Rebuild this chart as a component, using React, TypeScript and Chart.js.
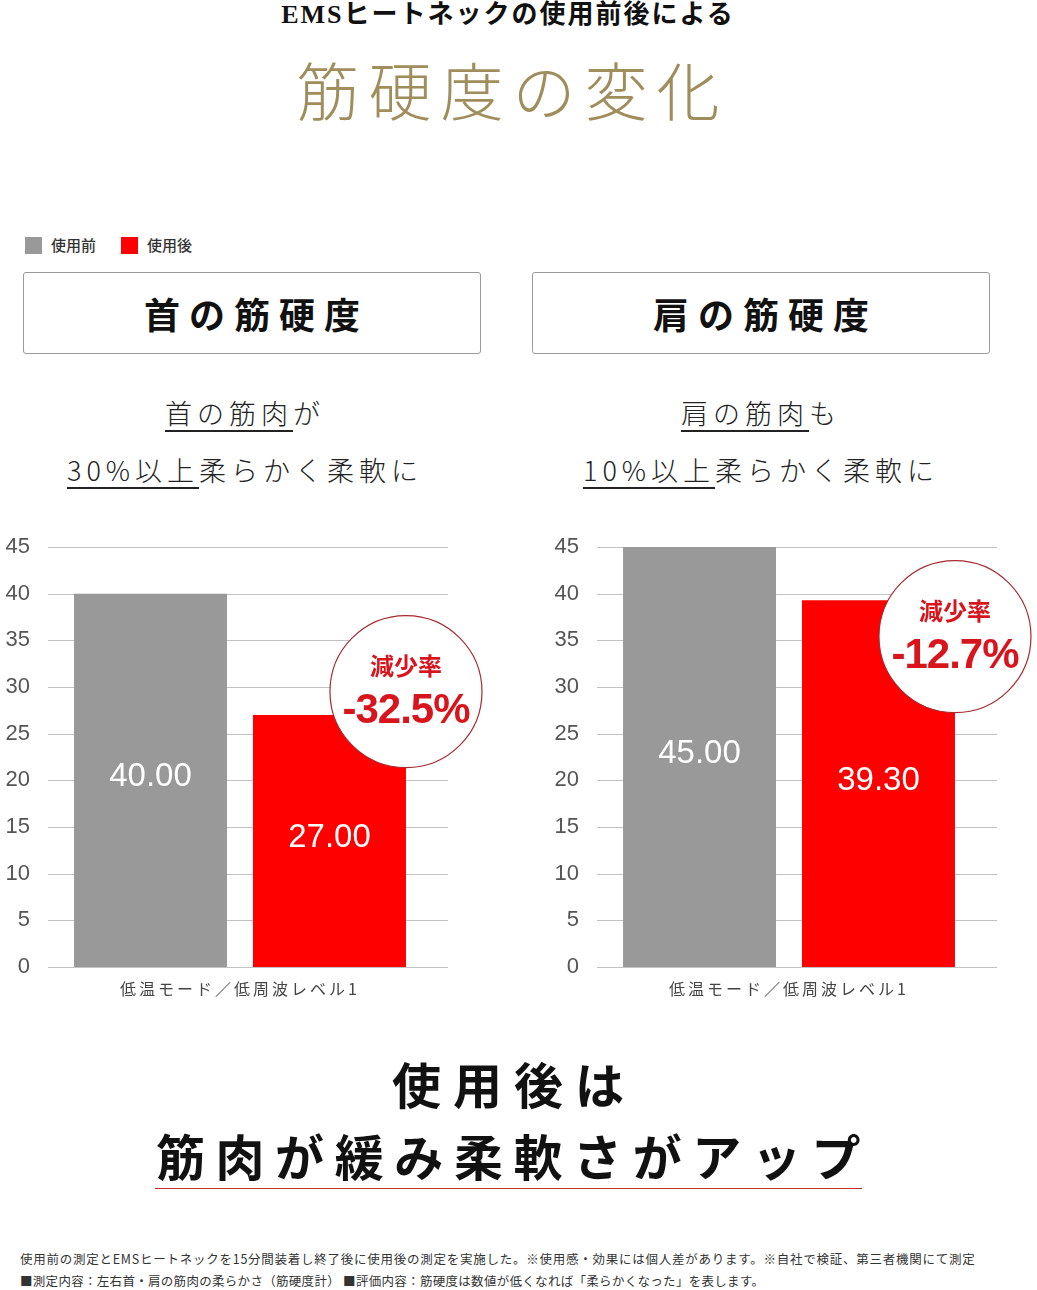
import React, { useEffect, useRef } from 'react';
import { Chart, registerables } from 'chart.js';

Chart.register(...registerables);

// ---------- data ----------
const categories = ['低温モード／低周波レベル1'];
const seriesNames = ['使用前', '使用後'];
const neckBefore = [40.0];
const neckAfter = [27.0];
const shoulderBefore = [45.0];
const shoulderAfter = [39.3];
const neckReduction = '-32.5%';
const shoulderReduction = '-12.7%';
const reductionLabel = '減少率';
const yMin = 0;
const yMax = 45;
const yStep = 5;

// ---------- styles ----------
const GRAY = '#999999';
const RED = '#fe0000';
const BADGE_RED = '#d8141d';
const JP = '"Noto Sans CJK JP", "Noto Sans", sans-serif';
const NUM = '"Liberation Sans", Arial, sans-serif';

type BarProps = {
  before: number[];
  after: number[];
  reduction: string;
  badgeAt: number;
  left: number;
};

function BarChart({ before, after, reduction, badgeAt, left }: BarProps) {
  const ref = useRef<HTMLCanvasElement | null>(null);
  useEffect(() => {
    if (!ref.current) return;
    const custom = {
      id: 'custom',
      beforeDraw(chart: any) {
        (chart.ctx as any).letterSpacing = '3px';
      },
      beforeDatasetsDraw(chart: any) {
        const ctx = chart.ctx;
        (ctx as any).letterSpacing = '0px';
        const y = chart.scales.y;
        const { left: l, right: r } = chart.chartArea;
        ctx.save();
        ctx.strokeStyle = '#c2c2c2';
        ctx.lineWidth = 1;
        y.ticks.forEach((t: any) => {
          const py = Math.round(y.getPixelForValue(t.value)) + 0.5;
          ctx.beginPath();
          ctx.moveTo(l, py);
          ctx.lineTo(r + 16, py);
          ctx.stroke();
        });
        ctx.restore();
      },
      afterDatasetsDraw(chart: any) {
        const ctx = chart.ctx;
        ctx.save();
        (ctx as any).letterSpacing = '0px';
        ctx.fillStyle = '#ffffff';
        ctx.font = `33px ${NUM}`;
        ctx.textAlign = 'center';
        ctx.textBaseline = 'middle';
        chart.data.datasets.forEach((ds: any, i: number) => {
          const meta = chart.getDatasetMeta(i);
          meta.data.forEach((el: any, j: number) => {
            const p = el.getProps(['x', 'y', 'base'], true);
            ctx.fillText(Number(ds.data[j]).toFixed(2), p.x, (p.y + p.base) / 2 - 3);
          });
        });
        const el = chart.getDatasetMeta(1).data[0];
        const p = el.getProps(['x', 'width'], true);
        const cx = p.x + p.width / 2;
        const cy = chart.scales.y.getPixelForValue(badgeAt);
        ctx.beginPath();
        ctx.arc(cx, cy, 76, 0, Math.PI * 2);
        ctx.fillStyle = '#ffffff';
        ctx.fill();
        ctx.lineWidth = 1.2;
        ctx.strokeStyle = '#a82a30';
        ctx.stroke();
        ctx.fillStyle = BADGE_RED;
        ctx.font = `bold 24px ${JP}`;
        ctx.fillText(reductionLabel, cx, cy - 26);
        (ctx as any).letterSpacing = '-1px';
        ctx.font = `bold 42px ${NUM}`;
        ctx.fillText(reduction, cx, cy + 20);
        ctx.restore();
      },
    };
    const chart = new Chart(ref.current, {
      type: 'bar',
      data: {
        labels: categories,
        datasets: [
          { label: seriesNames[0], data: before, backgroundColor: GRAY, borderWidth: 0 },
          { label: seriesNames[1], data: after, backgroundColor: RED, borderWidth: 0 },
        ],
      },
      options: {
        responsive: false,
        animation: false,
        devicePixelRatio: 1,
        layout: { padding: { top: 27, right: 68, left: 0, bottom: 0 } },
        datasets: { bar: { categoryPercentage: 0.932, barPercentage: 0.855 } },
        plugins: { legend: { display: false }, tooltip: { enabled: false } },
        scales: {
          x: {
            grid: { display: false, drawTicks: false },
            border: { display: false },
            ticks: { color: '#444', font: { family: JP, size: 16 }, padding: 12, z: 0 },
            afterFit: (s: any) => {
              s.height = 53;
            },
          },
          y: {
            min: yMin,
            max: yMax,
            ticks: { stepSize: yStep, color: '#555', font: { family: NUM, size: 22 }, padding: 18, z: 1 },
            grid: { display: false, drawTicks: false },
            border: { display: false },
            afterFit: (s: any) => {
              s.width = 48;
              s.paddingTop = 0;
              s.paddingBottom = 0;
            },
          },
        },
      },
      plugins: [custom],
    } as any);
    return () => chart.destroy();
  }, [before, after, reduction, badgeAt]);
  return (
    <canvas
      ref={ref}
      width={500}
      height={500}
      style={{ position: 'absolute', left, top: 520, width: 500, height: 500 }}
    />
  );
}

const abs = (o: React.CSSProperties): React.CSSProperties => ({ position: 'absolute', ...o });

function Box({ left, text }: { left: number; text: string }) {
  return (
    <div
      style={abs({
        left,
        top: 272,
        width: 458,
        height: 82,
        border: '1px solid #9a9a9a',
        borderRadius: 3,
        display: 'flex',
        alignItems: 'center',
        justifyContent: 'center',
        fontFamily: JP,
        fontWeight: 700,
        fontSize: 36,
        letterSpacing: 9,
        paddingLeft: 9,
        boxSizing: 'border-box',
        color: '#111',
      })}
    >
      {text}
    </div>
  );
}

function Sub({ left, u1, t1, u2, t2 }: { left: number; u1: string; t1: string; u2: string; t2: string }) {
  const line: React.CSSProperties = {
    position: 'absolute',
    left,
    width: 490,
    textAlign: 'center',
    fontFamily: JP,
    fontWeight: 300,
    fontSize: 27,
    letterSpacing: 5,
    color: '#222',
    lineHeight: '34px',
    whiteSpace: 'nowrap',
  };
  const u: React.CSSProperties = {
    textDecoration: 'underline',
    textDecorationThickness: '1.5px',
    textUnderlineOffset: '6px',
  };
  return (
    <>
      <div style={{ ...line, top: 396 }}>
        <span style={u}>{u1}</span>
        {t1}
      </div>
      <div style={{ ...line, top: 453 }}>
        <span style={u}>{u2}</span>
        {t2}
      </div>
    </>
  );
}

export default function App() {
  return (
    <div
      style={{
        position: 'absolute',
        left: 0,
        top: 0,
        width: 1037,
        height: 1290,
        overflow: 'hidden',
        background: '#ffffff',
      }}
    >
      <div
        style={abs({
          left: 0,
          top: 0,
          width: 1016,
          textAlign: 'center',
          fontFamily: '"Liberation Serif", "Noto Sans CJK JP", serif',
          fontWeight: 700,
          fontSize: 26,
          letterSpacing: 2,
          lineHeight: '30px',
          color: '#111',
        })}
      >
        EMSヒートネックの使用前後による
      </div>
      <div
        style={abs({
          left: 0,
          top: 50,
          width: 1016,
          paddingLeft: 9,
          boxSizing: 'border-box',
          textAlign: 'center',
          fontFamily: JP,
          fontWeight: 300,
          fontSize: 63,
          letterSpacing: 9,
          lineHeight: '76px',
          color: '#a08d5c',
        })}
      >
        筋硬度の変化
      </div>

      {/* legend */}
      <div style={abs({ left: 25, top: 237, width: 17, height: 17, background: GRAY })} />
      <div style={abs({ left: 51, top: 235, fontFamily: JP, fontSize: 15, fontWeight: 500, color: '#333', lineHeight: '20px' })}>
        {seriesNames[0]}
      </div>
      <div style={abs({ left: 121, top: 237, width: 17, height: 17, background: RED })} />
      <div style={abs({ left: 147, top: 235, fontFamily: JP, fontSize: 15, fontWeight: 500, color: '#333', lineHeight: '20px' })}>
        {seriesNames[1]}
      </div>

      <Box left={23} text="首の筋硬度" />
      <Box left={532} text="肩の筋硬度" />

      <Sub left={0} u1="首の筋肉" t1="が" u2="30%以上" t2="柔らかく柔軟に" />
      <Sub left={516} u1="肩の筋肉" t1="も" u2="10%以上" t2="柔らかく柔軟に" />

      <BarChart before={neckBefore} after={neckAfter} reduction={neckReduction} badgeAt={29.5} left={0} />
      <BarChart before={shoulderBefore} after={shoulderAfter} reduction={shoulderReduction} badgeAt={35.4} left={549} />

      <div
        style={abs({
          left: 0,
          top: 1053,
          width: 1016,
          paddingLeft: 12,
          boxSizing: 'border-box',
          textAlign: 'center',
          fontFamily: JP,
          fontWeight: 700,
          fontSize: 49,
          letterSpacing: 12,
          lineHeight: '60px',
          color: '#111',
        })}
      >
        使用後は
      </div>
      <div
        style={abs({
          left: 0,
          top: 1125,
          width: 1016,
          paddingLeft: 11,
          boxSizing: 'border-box',
          textAlign: 'center',
          fontFamily: JP,
          fontWeight: 700,
          fontSize: 49,
          letterSpacing: 10.6,
          lineHeight: '60px',
          color: '#111',
          whiteSpace: 'nowrap',
        })}
      >
        筋肉が緩み柔軟さがアップ
      </div>
      <div style={abs({ left: 155, top: 1188, width: 707, height: 1, background: '#c0302a' })} />

      <div
        style={abs({
          left: 20,
          top: 1250,
          fontFamily: JP,
          fontSize: 12.5,
          letterSpacing: 0.75,
          lineHeight: '18px',
          color: '#333',
          whiteSpace: 'nowrap',
        })}
      >
        使用前の測定とEMSヒートネックを15分間装着し終了後に使用後の測定を実施した。※使用感・効果には個人差があります。※自社で検証、第三者機関にて測定
      </div>
      <div
        style={abs({
          left: 20,
          top: 1272,
          fontFamily: JP,
          fontSize: 12.5,
          letterSpacing: 0.3,
          lineHeight: '18px',
          color: '#333',
          whiteSpace: 'nowrap',
        })}
      >
        ■測定内容：左右首・肩の筋肉の柔らかさ（筋硬度計） ■評価内容：筋硬度は数値が低くなれば「柔らかくなった」を表します。
      </div>
    </div>
  );
}
